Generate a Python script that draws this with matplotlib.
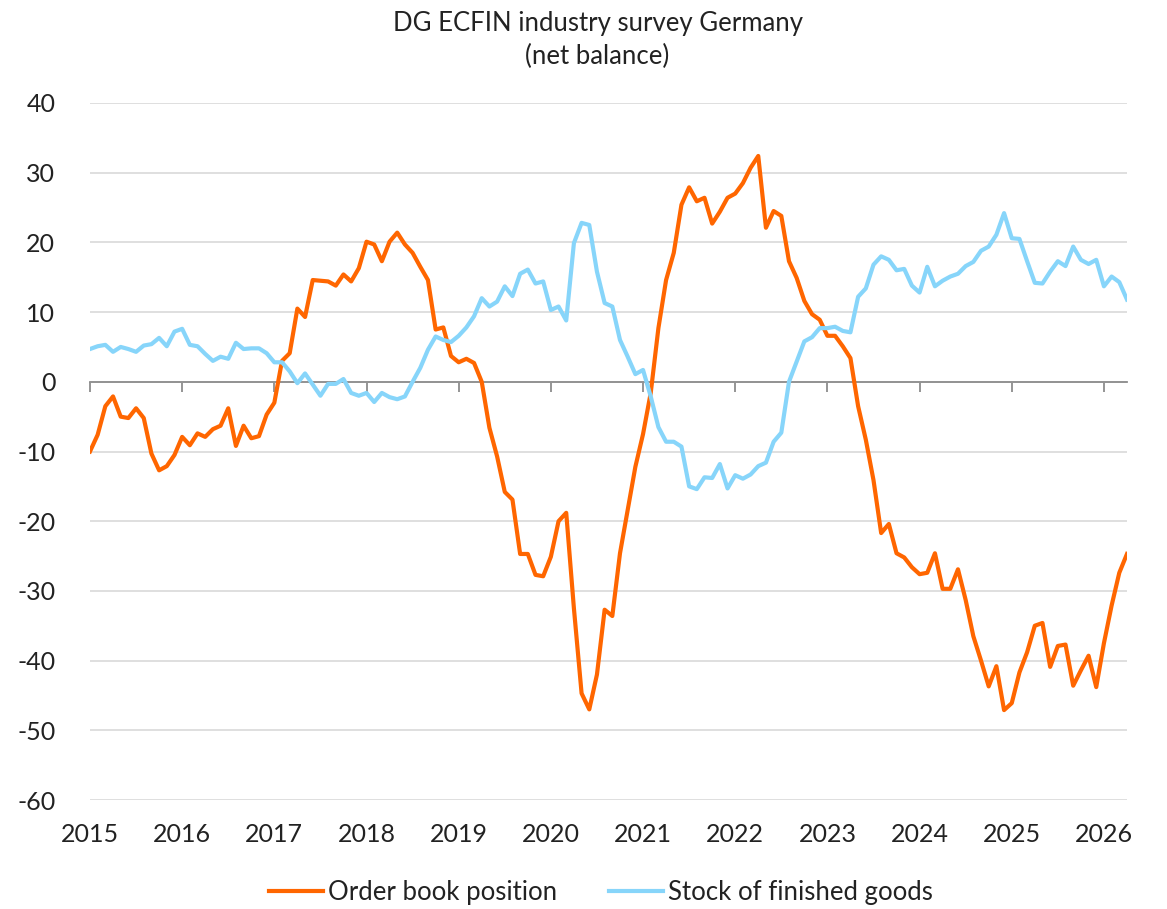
import numpy as np
import matplotlib
matplotlib.use("Agg")
import matplotlib.pyplot as plt
import matplotlib.transforms as mtransforms

plt.rcParams['font.family'] = ['Lato', 'DejaVu Sans']
plt.rcParams['axes.unicode_minus'] = False

# monthly data, Jan 2015 - Apr 2026
order_book = [
    -10.0, -7.6, -3.5, -2.1, -5.0, -5.2, -3.8, -5.2, -10.3, -12.7, -12.1, -10.5,
    -7.9, -9.1, -7.4, -7.9, -6.8, -6.3, -3.8, -9.2, -6.3, -8.1, -7.8, -4.7,
    -3.0, 3.0, 4.1, 10.5, 9.3, 14.6, 14.5, 14.4, 13.8, 15.4, 14.4, 16.3,
    20.1, 19.7, 17.3, 20.1, 21.4, 19.7, 18.5, 16.5, 14.6, 7.5, 7.8, 3.7,
    2.8, 3.3, 2.7, 0.0, -6.6, -10.7, -15.8, -16.9, -24.7, -24.7, -27.7, -27.9,
    -25.1, -20.0, -18.8, -32.5, -44.7, -47.0, -42.0, -32.7, -33.6, -24.6, -18.4, -12.2,
    -7.5, -1.6, 7.7, 14.6, 18.5, 25.4, 27.9, 25.9, 26.4, 22.7, 24.4, 26.4,
    27.0, 28.5, 30.7, 32.4, 22.1, 24.5, 23.8, 17.3, 14.9, 11.6, 9.7, 8.9,
    6.6, 6.6, 5.1, 3.4, -3.5, -8.3, -14.1, -21.7, -20.4, -24.6, -25.2, -26.6,
    -27.6, -27.4, -24.6, -29.7, -29.7, -26.9, -31.3, -36.5, -40.0, -43.7, -40.8, -47.1,
    -46.1, -41.7, -38.8, -35.0, -34.6, -40.9, -37.9, -37.7, -43.6, -41.4, -39.3, -43.8,
    -37.5, -32.1, -27.4, -24.7,
]
stocks = [
    4.7, 5.1, 5.3, 4.3, 5.0, 4.7, 4.3, 5.2, 5.4, 6.3, 5.1, 7.2,
    7.6, 5.3, 5.1, 4.0, 3.0, 3.6, 3.3, 5.6, 4.7, 4.8, 4.8, 4.1,
    2.8, 2.8, 1.5, -0.2, 1.2, -0.4, -2.0, -0.3, -0.3, 0.4, -1.6, -2.0,
    -1.6, -2.9, -1.6, -2.2, -2.5, -2.1, 0.0, 2.0, 4.6, 6.5, 6.0, 5.7,
    6.6, 7.8, 9.4, 12.0, 10.8, 11.5, 13.7, 12.3, 15.5, 16.1, 14.1, 14.4,
    10.3, 10.8, 8.8, 19.9, 22.8, 22.5, 15.8, 11.3, 10.8, 6.0, 3.6, 1.1,
    1.7, -2.1, -6.5, -8.6, -8.6, -9.3, -15.0, -15.4, -13.7, -13.8, -11.8, -15.3,
    -13.4, -13.9, -13.3, -12.1, -11.6, -8.6, -7.3, 0.0, 2.9, 5.8, 6.4, 7.7,
    7.7, 7.9, 7.3, 7.1, 12.2, 13.4, 16.8, 18.0, 17.5, 16.0, 16.2, 13.8,
    12.8, 16.5, 13.7, 14.5, 15.1, 15.5, 16.6, 17.2, 18.8, 19.4, 21.1, 24.2,
    20.6, 20.5, 17.3, 14.2, 14.1, 15.8, 17.3, 16.6, 19.4, 17.5, 16.9, 17.5,
    13.7, 15.1, 14.3, 11.8,
]
years = list(range(2015, 2027))
yticks = list(range(-60, 41, 10))

t = 2015 + np.arange(len(order_book)) / 12

fig = plt.figure(figsize=(11.67, 9.09), dpi=100)
ax = fig.add_axes([0.0771, 0.1199, 0.8886, 0.7668])

ax.plot(t, order_book, color='#FF6600', lw=3, label='Order book position', zorder=3)
ax.plot(t, stocks, color='#87D5FA', lw=3, label='Stock of finished goods', zorder=3)

ax.set_xlim(2015, t[-1])
ax.set_ylim(-60, 40)
ax.set_yticks(yticks)
ax.set_yticklabels([str(v) for v in yticks], fontsize=18, color='#222222')
ax.tick_params(axis='y', length=0, pad=25)
ax.grid(axis='y', color='#D9D9D9', lw=1.2, zorder=0)

for s in ['top', 'right', 'left']:
    ax.spines[s].set_visible(False)
ax.spines['bottom'].set_position(('data', 0))
ax.spines['bottom'].set_color('#8C8C8C')
ax.spines['bottom'].set_linewidth(1.3)
ax.set_xticks(years)
ax.tick_params(axis='x', direction='out', length=7, color='#8C8C8C', width=1.3,
               labelbottom=False)

trans = mtransforms.blended_transform_factory(ax.transData, ax.transAxes)
for y in years:
    ax.text(y, -0.05, str(y), transform=trans, ha='center', va='center',
            fontsize=18, color='#222222')

fig.text(0.512, 0.988, 'DG ECFIN industry survey Germany\n(net balance)',
         ha='center', va='top', fontsize=18.5, color='#222222', linespacing=1.4)

fig.legend(loc='lower center', bbox_to_anchor=(0.515, -0.021), ncol=2, frameon=False,
           fontsize=18.5, handlelength=2.1, handletextpad=0.2, columnspacing=2.0,
           labelcolor='#222222')

fig.savefig('out.png', dpi=100)
